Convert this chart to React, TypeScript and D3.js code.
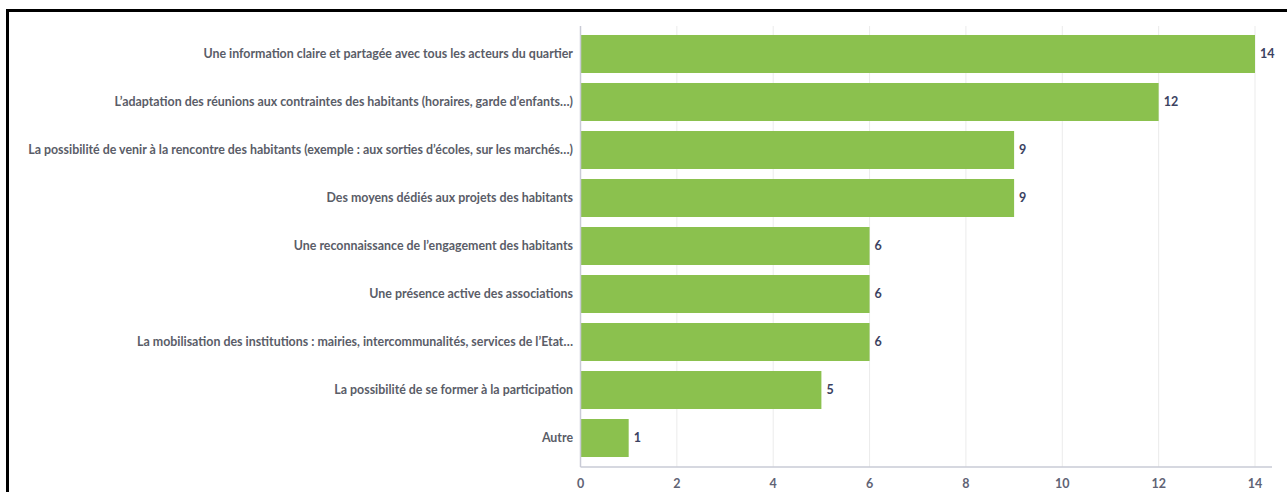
import React, { useEffect, useRef } from 'react';
import * as d3 from 'd3';

const categories = [
  'Une information claire et partagée avec tous les acteurs du quartier',
  'L’adaptation des réunions aux contraintes des habitants (horaires, garde d’enfants…)',
  'La possibilité de venir à la rencontre des habitants (exemple : aux sorties d’écoles, sur les marchés…)',
  'Des moyens dédiés aux projets des habitants',
  'Une reconnaissance de l’engagement des habitants',
  'Une présence active des associations',
  'La mobilisation des institutions : mairies, intercommunalités, services de l’Etat…',
  'La possibilité de se former à la participation',
  'Autre',
];
const values = [14, 12, 9, 9, 6, 6, 6, 5, 1];
const xTicks = [0, 2, 4, 6, 8, 10, 12, 14];

export default function App() {
  const ref = useRef<SVGSVGElement>(null);
  useEffect(() => {
    const w = 1287, h = 492;
    const svg = d3.select(ref.current).attr('width', w).attr('height', h);
    svg.selectAll('*').remove();

    const x = d3.scaleLinear().domain([0, 14]).range([580.5, 1255]);
    const y = d3.scaleBand().domain(categories).range([30, 462])
      .paddingInner(0.2083).paddingOuter(0.104);
    const font = 'Lato, "Open Sans", sans-serif';

    // frame
    svg.append('rect')
      .attr('x', 7.5).attr('y', 10.5).attr('width', w + 10).attr('height', h + 10)
      .attr('fill', 'white').attr('stroke', '#000').attr('stroke-width', 3);

    // grid
    svg.selectAll('.grid').data(xTicks.slice(1)).join('line')
      .attr('x1', d => x(d)).attr('x2', d => x(d))
      .attr('y1', 26).attr('y2', 467)
      .attr('stroke', '#ebebeb').attr('stroke-width', 1);

    svg.selectAll('.bar').data(values).join('rect')
      .attr('x', x(0))
      .attr('y', (d, i) => y(categories[i])!)
      .attr('width', d => x(d) - x(0))
      .attr('height', y.bandwidth())
      .attr('fill', '#8bc14e');

    // axes lines
    svg.append('line').attr('x1', x(0)).attr('x2', x(0)).attr('y1', 26).attr('y2', 467)
      .attr('stroke', '#c9cbd6').attr('stroke-width', 1.5);
    svg.append('line').attr('x1', x(0)).attr('x2', 1272).attr('y1', 467).attr('y2', 467)
      .attr('stroke', '#c9cbd6').attr('stroke-width', 1.5);

    svg.selectAll('.tick').data(xTicks).join('text')
      .attr('x', d => x(d)).attr('y', 488)
      .attr('text-anchor', 'middle')
      .attr('font-family', font).attr('font-weight', 700).attr('font-size', 12.5)
      .attr('fill', '#5f6375')
      .text(d => d);

    svg.selectAll('.cat').data(categories).join('text')
      .attr('x', 573).attr('y', d => y(d)! + y.bandwidth() / 2)
      .attr('dy', '0.35em')
      .attr('text-anchor', 'end')
      .attr('font-family', font).attr('font-weight', 700).attr('font-size', 12.4)
      .attr('fill', '#5a5d68')
      .text(d => d);

    svg.selectAll('.val').data(values).join('text')
      .attr('x', d => x(d) + 5)
      .attr('y', (d, i) => y(categories[i])! + y.bandwidth() / 2)
      .attr('dy', '0.35em')
      .attr('font-family', font).attr('font-weight', 700).attr('font-size', 12.5)
      .attr('fill', '#3b4261')
      .text(d => d);
  }, []);
  return <svg ref={ref} style={{ position: 'absolute', left: 0, top: 0 }} />;
}
